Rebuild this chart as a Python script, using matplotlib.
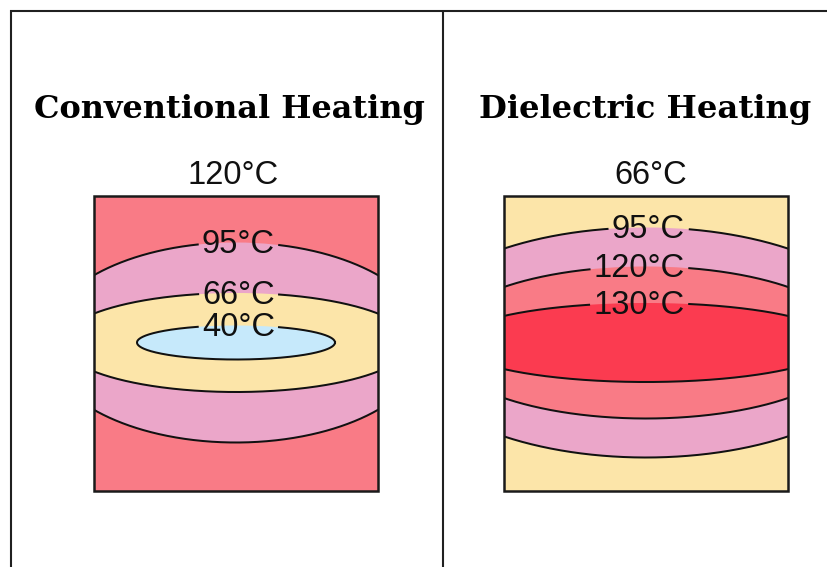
import numpy as np
import matplotlib
matplotlib.use('Agg')
import matplotlib.pyplot as plt
from matplotlib.patches import Rectangle, Ellipse
from matplotlib import font_manager as fm

# ---------------- data ----------------
panel_titles = ['Conventional Heating', 'Dielectric Heating']
surface_labels = ['120°C', '66°C']

# isotherms, outer (surface) -> inner (core)
conv_temps = [120, 95, 66, 40]
conv_half_widths = [0, 192, 175, 99]
conv_half_heights = [0, 100, 49.5, 17]

diel_temps = [66, 95, 120, 130]
diel_half_widths = [0, 246, 208, 192]
diel_half_heights = [0, 115, 76, 39.5]

temp_colors = {40: '#C6E9FB', 66: '#FCE5A9', 95: '#EBA6C9',
               120: '#F97B86', 130: '#FB3B50'}

# ---------------- figure ----------------
W, H = 827, 567
fig = plt.figure(figsize=(W / 100, H / 100), dpi=100)
fig.patch.set_facecolor('white')
ax = fig.add_axes([0, 0, 1, 1])
ax.set_xlim(0, W)
ax.set_ylim(H, 0)
ax.axis('off')

def has_font(name):
    try:
        fm.findfont(fm.FontProperties(family=name), fallback_to_default=False)
        return True
    except Exception:
        return False

num_font = 'Liberation Sans' if has_font('Liberation Sans') else 'DejaVu Sans'
title_font = 'DejaVu Serif'
ink = '#101010'

# frame
frame_kw = dict(color='#202020', lw=1.5, solid_capstyle='butt', zorder=6)
ax.plot([10, W], [10.5, 10.5], **frame_kw)
ax.plot([11, 11], [10, H], **frame_kw)
ax.plot([443, 443], [10, H], **frame_kw)

renderer = fig.canvas.get_renderer()

def fit_text(x, y, s, target_w, **kw):
    t = ax.text(x, y, s, **kw)
    w = t.get_window_extent(renderer).width
    t.set_fontsize(t.get_fontsize() * target_w / w)
    return t

panels = [
    dict(x0=94, title_cx=229, title_w=392, surf_cx=233,
         temps=conv_temps, hw=conv_half_widths, hh=conv_half_heights),
    dict(x0=504, title_cx=645, title_w=333, surf_cx=651,
         temps=diel_temps, hw=diel_half_widths, hh=diel_half_heights),
]
box_w, box_h, box_y0 = 284, 295, 196
cy = 342.5

for p, title, surf in zip(panels, panel_titles, surface_labels):
    x0 = p['x0']
    cx = x0 + box_w / 2
    fit_text(p['title_cx'], 118, title, p['title_w'], ha='center',
             va='baseline', family=title_font, weight='bold', fontsize=20,
             color='black')
    ax.text(p['surf_cx'], 184, surf, ha='center', va='baseline',
            family=num_font, fontsize=23.5, color=ink)

    temps = p['temps']
    base = Rectangle((x0, box_y0), box_w, box_h, facecolor=temp_colors[temps[0]],
                     edgecolor='none', zorder=1)
    ax.add_patch(base)
    for i in range(1, len(temps)):
        a, b = p['hw'][i], p['hh'][i]
        e = Ellipse((cx, cy), 2 * a, 2 * b, facecolor=temp_colors[temps[i]],
                    edgecolor='none', zorder=2)
        ax.add_patch(e)
        e.set_clip_path(base)
        # label on the top of the isotherm
        lab = ax.text(cx + 39, cy - b - 1.5, f'{temps[i]}°C', ha='right',
                      va='center_baseline', family=num_font, fontsize=23.5,
                      color=ink, zorder=5)
        bb = lab.get_window_extent(renderer)
        gl, gr = bb.x0 - 4, bb.x1 + 4
        t = np.linspace(0, 2 * np.pi, 1441)
        xs = cx + a * np.cos(t)
        ys = cy + b * np.sin(t)
        gap = (ys < cy) & (xs > gl) & (xs < gr)
        xs = np.where(gap, np.nan, xs)
        ln, = ax.plot(xs, ys, color='#111111', lw=1.45, zorder=3)
        ln.set_clip_path(base)
    ax.add_patch(Rectangle((x0, box_y0), box_w, box_h, facecolor='none',
                           edgecolor='#1a1a1a', lw=1.8, zorder=4))

fig.savefig('out.png', dpi=100, facecolor='white')
